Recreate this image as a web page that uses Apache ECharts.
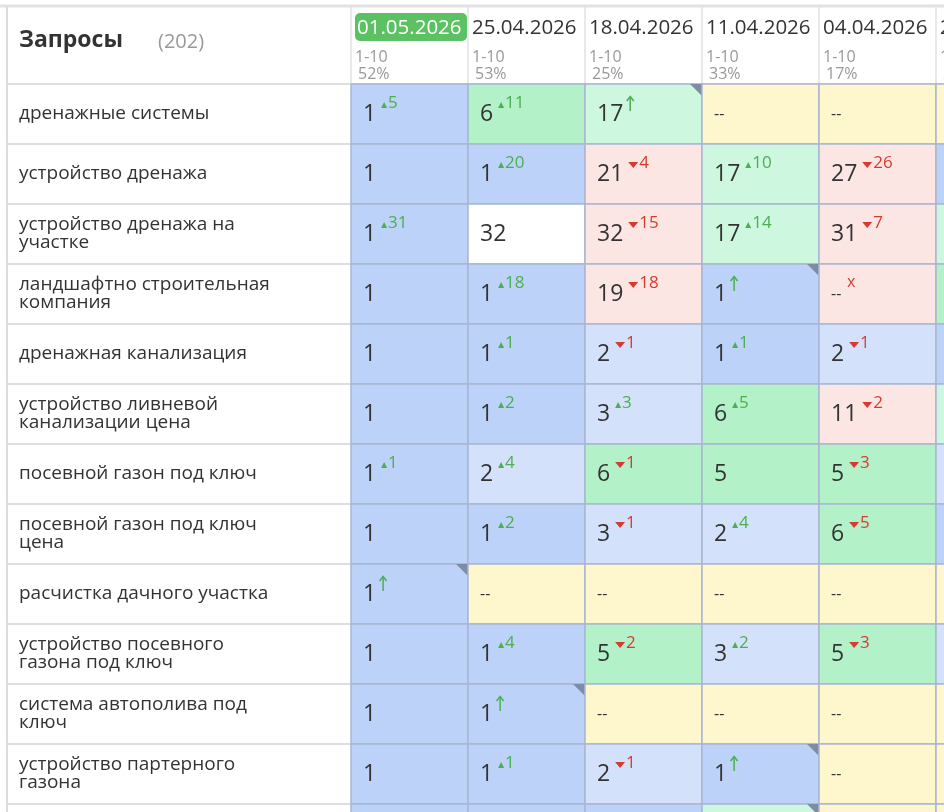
<!DOCTYPE html>
<html lang="ru">
<head>
<meta charset="UTF-8">
<title>Запросы</title>
<script src="https://cdn.jsdelivr.net/npm/echarts@6/dist/echarts.min.js"></script>
<style>
  html, body { margin: 0; padding: 0; background: #fff; }
  #chart { width: 944px; height: 812px; }
</style>
</head>
<body>
<div id="chart"></div>
<script>
  // колонки (даты съёма позиций)
  let dates = ['01.05.2026', '25.04.2026', '18.04.2026', '11.04.2026', '04.04.2026', '28.03.2026'];
  let ranges = ['1-10', '1-10', '1-10', '1-10', '1-10', '1-10'];
  let shares = ['52%', '53%', '25%', '33%', '17%', '20%'];

  let queries = [
    'дренажные системы',
    'устройство дренажа',
    'устройство дренажа на\nучастке',
    'ландшафтно строительная\nкомпания',
    'дренажная канализация',
    'устройство ливневой\nканализации цена',
    'посевной газон под ключ',
    'посевной газон под ключ\nцена',
    'расчистка дачного участка',
    'устройство посевного\nгазона под ключ',
    'система автополива под\nключ',
    'устройство партерного\nгазона',
    ''
  ];

  // позиции: '--' = нет в выдаче
  let positions = [
    ['1', '6', '17', '--', '--', '--'],
    ['1', '1', '21', '17', '27', '1'],
    ['1', '32', '32', '17', '31', '14'],
    ['1', '1', '19', '1', '--', '5'],
    ['1', '1', '2', '1', '2', '1'],
    ['1', '1', '3', '6', '11', '13'],
    ['1', '2', '6', '5', '5', '2'],
    ['1', '1', '3', '2', '6', '1'],
    ['1', '--', '--', '--', '--', '--'],
    ['1', '1', '5', '3', '5', '2'],
    ['1', '1', '--', '--', '--', '--'],
    ['1', '1', '2', '1', '--', '--'],
    ['1', '1', '1', '1', '--', '--']
  ];

  // изменения: '+n' рост, '-n' падение, 'new' появилась, 'x' выпала, '' без изменений
  let changes = [
    ['+5', '+11', 'new', '', '', ''],
    ['', '+20', '-4', '+10', '-26', ''],
    ['+31', '', '-15', '+14', '-7', ''],
    ['', '+18', '-18', 'new', 'x', ''],
    ['', '+1', '-1', '+1', '-1', ''],
    ['', '+2', '+3', '+5', '-2', ''],
    ['+1', '+4', '-1', '', '-3', ''],
    ['', '+2', '-1', '+4', '-5', ''],
    ['new', '', '', '', '', ''],
    ['', '+4', '-2', '+2', '-3', ''],
    ['', 'new', '', '', '', ''],
    ['', '+1', '-1', 'new', '', ''],
    ['', '', '', 'new', '', '']
  ];

  // фон ячеек: B топ-1, L топ-3, G топ-10, N топ-10 светлый, P падение, Y нет, W белый
  let fills = [
    ['B', 'G', 'N', 'Y', 'Y', 'Y'],
    ['B', 'B', 'P', 'N', 'P', 'B'],
    ['B', 'W', 'P', 'N', 'P', 'N'],
    ['B', 'B', 'P', 'B', 'P', 'G'],
    ['B', 'B', 'L', 'B', 'L', 'B'],
    ['B', 'B', 'L', 'G', 'P', 'N'],
    ['B', 'L', 'G', 'G', 'G', 'L'],
    ['B', 'B', 'L', 'L', 'G', 'B'],
    ['B', 'Y', 'Y', 'Y', 'Y', 'Y'],
    ['B', 'B', 'G', 'L', 'G', 'L'],
    ['B', 'B', 'Y', 'Y', 'Y', 'Y'],
    ['B', 'B', 'L', 'B', 'Y', 'Y'],
    ['B', 'B', 'B', 'N', 'Y', 'Y']
  ];

  let palette = {
    B: '#bcd2f8', L: '#d3e1fb', G: '#b3f2c9', N: '#cdf8df',
    P: '#fbe6e3', Y: '#fef6cc', W: '#ffffff'
  };

  let FONT = '"Open Sans", "Noto Sans", sans-serif';
  let GREEN = '#4caf50', RED = '#d93a30';

  let cells = [];
  positions.forEach((row, r) => row.forEach((v, c) => {
    cells.push([c, r, v, changes[r][c], fills[r][c]]);
  }));

  function textWidth(s, size) {
    return s.length * size * 0.57;
  }

  function renderCell(params, api) {
    let c = api.value(0), r = api.value(1);
    let d = cells[params.dataIndex];
    let p = api.coord([c, r]);
    let w = api.size([1, 1]);
    let x = p[0] - w[0] / 2, y = p[1] - w[1] / 2;
    let ch = [];
    ch.push({
      type: 'rect',
      shape: {x: x, y: y, width: w[0], height: w[1]},
      style: {fill: palette[d[4]], stroke: '#a9b6d2', lineWidth: 1.5}
    });
    // разделитель в колонке запросов
    if (c === 0) {
      ch.push({
        type: 'line',
        shape: {x1: 7, y1: y + w[1], x2: x, y2: y + w[1]},
        style: {stroke: '#dedede', lineWidth: 2}
      });
    }
    let isEmpty = d[2] === '--';
    let size = isEmpty ? 16 : 23;
    ch.push({
      type: 'text',
      style: {
        text: d[2], x: x + 12, y: y + 30, fill: '#333', font: size + 'px ' + FONT,
        verticalAlign: 'middle'
      }
    });
    let ex = x + 12 + (isEmpty ? 17 : textWidth(d[2], 23)) + 5;
    let delta = d[3];
    if (delta === 'new') {
      // стрелка "новая позиция"
      ch.push({type: 'line', shape: {x1: ex + 2, y1: y + 27, x2: ex + 2, y2: y + 13}, style: {stroke: GREEN, lineWidth: 1.5}});
      ch.push({type: 'polyline', shape: {points: [[ex - 1.5, y + 17], [ex + 2, y + 12.5], [ex + 5.5, y + 17]]}, style: {stroke: GREEN, lineWidth: 1.5, fill: null}});
    } else if (delta === 'x') {
      ch.push({type: 'text', style: {text: 'x', x: ex - 6, y: y + 18, fill: RED, font: '16px ' + FONT, verticalAlign: 'middle'}});
    } else if (delta) {
      let up = delta[0] === '+';
      let col = up ? GREEN : RED;
      let tw = up ? 6 : 10;
      ch.push({
        type: 'polygon',
        shape: {points: up
          ? [[ex, y + 24], [ex + tw, y + 24], [ex + tw / 2, y + 18]]
          : [[ex, y + 18], [ex + tw, y + 18], [ex + tw / 2, y + 24]]},
        style: {fill: col}
      });
      ch.push({type: 'text', style: {text: delta.slice(1), x: ex + tw + 1, y: y + 19, fill: col, font: '17px ' + FONT, verticalAlign: 'middle'}});
    }
    if (delta === 'new') {
      ch.push({
        type: 'polygon',
        shape: {points: [[x + w[0] - 12, y], [x + w[0], y], [x + w[0], y + 12]]},
        style: {fill: '#7f8ca6'}
      });
    }
    return {type: 'group', children: ch};
  }

  function renderHead(params, api) {
    let c = api.value(0);
    let p = api.coord([c, 0]);
    let w = api.size([1, 1]);
    let x = p[0] - w[0] / 2;
    let ch = [];
    let first = c === 0;
    if (first) {
      ch.push({type: 'rect', shape: {x: x + 4, y: 13, width: 112, height: 28, r: 5}, style: {fill: '#5cc162'}});
    }
    ch.push({type: 'text', style: {text: dates[c], x: x + (first ? 6 : 4), y: 28, fill: first ? '#fff' : '#333', font: '20.5px ' + FONT, verticalAlign: 'middle'}});
    ch.push({type: 'text', style: {text: ranges[c], x: x + 4, y: 57, fill: '#999', font: '16px ' + FONT, verticalAlign: 'middle'}});
    ch.push({type: 'text', style: {text: shares[c], x: x + 7, y: 74, fill: '#999', font: '16px ' + FONT, verticalAlign: 'middle'}});
    ch.push({type: 'line', shape: {x1: x, y1: 6, x2: x, y2: 84}, style: {stroke: '#e2e2e2', lineWidth: 1.5}});
    return {type: 'group', children: ch};
  }

  let chart = echarts.init(document.getElementById('chart'));
  chart.setOption({
    animation: false,
    grid: {
      left: 351, top: 84, width: 117 * dates.length, height: 60 * queries.length,
      outerBoundsMode: 'none', containLabel: false
    },
    xAxis: {
      type: 'category', data: dates, position: 'top',
      axisLine: {show: false}, axisTick: {show: false}, axisLabel: {show: false}
    },
    yAxis: {
      type: 'category', data: queries, inverse: true,
      axisLine: {show: false}, axisTick: {show: false},
      axisLabel: {
        align: 'left', margin: 332, color: '#333', fontSize: 19,
        lineHeight: 18, fontFamily: FONT
      }
    },
    graphic: [
      {type: 'line', shape: {x1: 0, y1: 6, x2: 944, y2: 6}, style: {stroke: '#e2e2e2', lineWidth: 3}},
      {type: 'line', shape: {x1: 7, y1: 6, x2: 7, y2: 812}, style: {stroke: '#dcdcdc', lineWidth: 2}},
      {type: 'line', shape: {x1: 7, y1: 84, x2: 944, y2: 84}, style: {stroke: '#dedede', lineWidth: 2}},
      {type: 'text', left: 19, top: 29, style: {text: 'Запросы', fill: '#333', font: 'bold 23px ' + FONT}},
      {type: 'text', left: 158, top: 32, style: {text: '(202)', fill: '#999', font: '20px ' + FONT}}
    ],
    series: [
      {
        type: 'custom', renderItem: renderHead, silent: true,
        data: dates.map((d, i) => [i, 0])
      },
      {
        type: 'custom', renderItem: renderCell, silent: true,
        data: cells.map(d => [d[0], d[1]])
      }
    ]
  });
</script>
</body>
</html>
